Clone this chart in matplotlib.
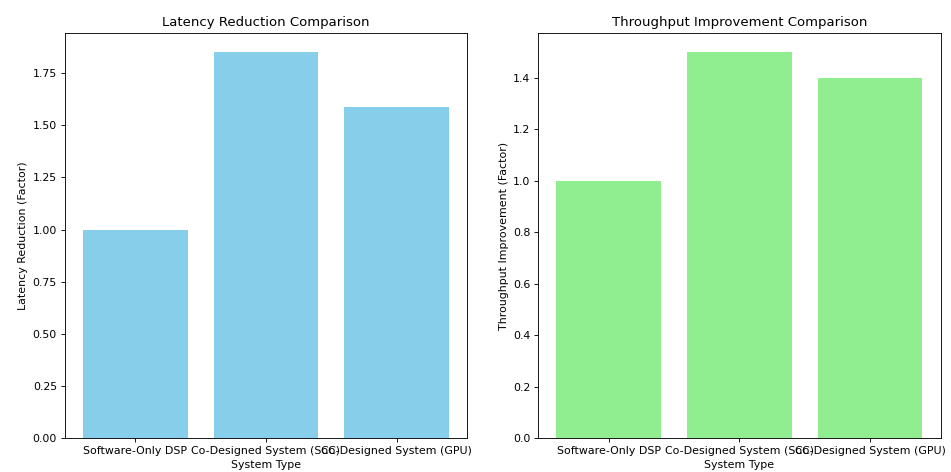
import matplotlib
matplotlib.use('Agg')
import matplotlib.pyplot as plt

# System types compared in both panels
systems = ['Software-Only DSP', 'Co-Designed System (SoC)', 'Co-Designed System (GPU)']

# Relative factors (software-only DSP as baseline)
latency_reduction = [1.0, 1.85, 1.59]
throughput_improvement = [1.0, 1.5, 1.4]

fig, (ax1, ax2) = plt.subplots(1, 2, figsize=(12, 5.956), dpi=79.25)
fig.subplots_adjust(left=0.068, right=0.989, top=0.930, bottom=0.072, wspace=0.176)

# Latency panel
ax1.bar(systems, latency_reduction, color='skyblue')
ax1.set_title('Latency Reduction Comparison')
ax1.set_xlabel('System Type')
ax1.set_ylabel('Latency Reduction (Factor)')

# Throughput panel
ax2.bar(systems, throughput_improvement, color='lightgreen')
ax2.set_title('Throughput Improvement Comparison')
ax2.set_xlabel('System Type')
ax2.set_ylabel('Throughput Improvement (Factor)')

fig.savefig('out.png')
